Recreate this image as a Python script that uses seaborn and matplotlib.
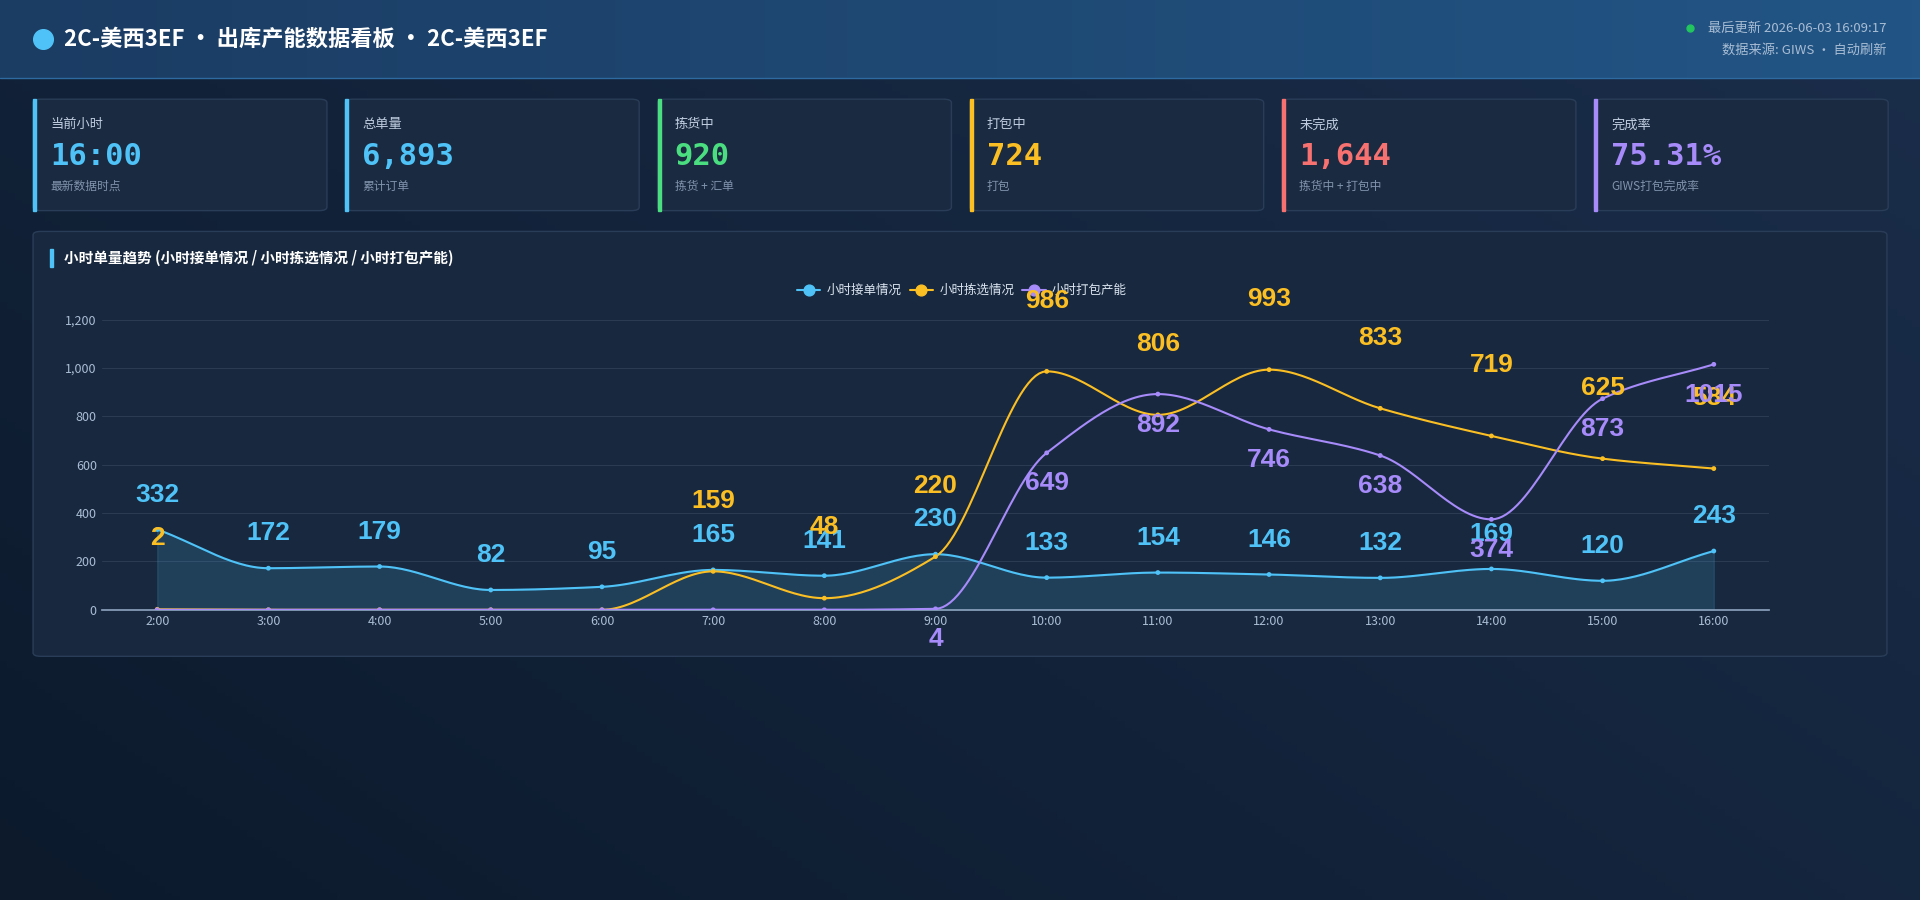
import numpy as np
import pandas as pd
import seaborn as sns
import matplotlib.pyplot as plt
from matplotlib.patches import Rectangle, FancyBboxPatch
from matplotlib.ticker import FuncFormatter

hours = ["2:00", "3:00", "4:00", "5:00", "6:00", "7:00", "8:00", "9:00",
         "10:00", "11:00", "12:00", "13:00", "14:00", "15:00", "16:00"]
orders = [332, 172, 179, 82, 95, 165, 141, 230, 133, 154, 146, 132, 169, 120, 243]
picking = [2, 0, 0, 0, 0, 159, 48, 220, 986, 806, 993, 833, 719, 625, 584]
packing = [0, 0, 0, 0, 0, 0, 0, 4, 649, 892, 746, 638, 374, 873, 1015]
series_names = ["小时接单情况", "小时拣选情况", "小时打包产能"]
series_colors = ["#4fc3f7", "#fbbf24", "#a78bfa"]

card_titles = ["当前小时", "总单量", "拣货中", "打包中", "未完成", "完成率"]
card_values = ["16:00", "6,893", "920", "724", "1,644", "75.31%"]
card_notes = ["最新数据时点", "累计订单", "拣货 + 汇单", "打包", "拣货中 + 打包中", "GIWS打包完成率"]
card_colors = ["#4fc3f7", "#4fc3f7", "#4ade80", "#fbbf24", "#f87171", "#a78bfa"]

sns.set_theme(style="dark")
plt.rcParams['font.family'] = ['Noto Sans CJK SC', 'DejaVu Sans']

W, H = 1568.0, 735.0  # reference layout units
fig = plt.figure(figsize=(19.2, 9), dpi=100)


def fx(x): return x / W
def fy(y): return 1 - y / H


cmap = plt.matplotlib.colors.LinearSegmentedColormap
bg = fig.add_axes([0, 0, 1, 1])
bg.set_axis_off()
grad = np.linspace(0, 1, 256)[None, :] * 0.6 + np.linspace(1, 0, 256)[:, None] * 0.4
bg.imshow(grad, aspect='auto', cmap=cmap.from_list("bg", ["#0c1a2c", "#1a2d4a"]),
          extent=[0, 1, 0, 1])
bg.set_xlim(0, 1); bg.set_ylim(0, 1)

# header
hg = np.linspace(0, 1, 256)[None, :]
bg.imshow(hg, aspect='auto', cmap=cmap.from_list("hd", ["#1b3c63", "#225585"]),
          extent=[0, 1, fy(64), 1], zorder=1)
bg.plot([0, 1], [fy(64), fy(64)], color="#2e6aa0", lw=1, zorder=2)
bg.scatter([fx(35)], [fy(32)], s=200, color="#4fc3f7", zorder=3)
bg.text(fx(52), fy(32), "2C-美西3EF · 出库产能数据看板 · 2C-美西3EF", color="white", fontsize=16,
        fontweight='bold', va='center', zorder=3)
bg.scatter([fx(1380)], [fy(23)], s=25, color="#22c55e", zorder=3)
bg.text(fx(1541), fy(23), "最后更新 2026-06-03 16:09:17", color="#a9bdd4", fontsize=9.5,
        ha='right', va='center', zorder=3)
bg.text(fx(1541), fy(41), "数据来源: GIWS · 自动刷新", color="#a9bdd4", fontsize=9.5,
        ha='right', va='center', zorder=3)

# cards
for i in range(6):
    x0 = 27 + i * 255
    bg.add_patch(FancyBboxPatch((fx(x0), fy(172)), fx(240), fy(81) - fy(172),
                                boxstyle="round,pad=0,rounding_size=0.004", fc="#1a2a40",
                                ec="#2a3d58", lw=1, zorder=2))
    bg.add_patch(Rectangle((fx(x0), fy(172)), fx(2.5), fy(81) - fy(172), color=card_colors[i], zorder=3))
    bg.text(fx(x0 + 14), fy(102), card_titles[i], color="#c0cde0", fontsize=9.5, va='center', zorder=3)
    bg.text(fx(x0 + 14), fy(128), card_values[i], color=card_colors[i], fontsize=22,
            fontweight='bold', va='center', family=['DejaVu Sans Mono', 'Noto Sans CJK SC'], zorder=3)
    bg.text(fx(x0 + 14), fy(152), card_notes[i], color="#8194ad", fontsize=8.5, va='center', zorder=3)

# chart panel
bg.add_patch(FancyBboxPatch((fx(27), fy(536)), fx(1514), fy(189) - fy(536),
                            boxstyle="round,pad=0,rounding_size=0.004", fc="#18283e",
                            ec="#2a3d58", lw=1, zorder=2))
bg.add_patch(Rectangle((fx(41), fy(218)), fx(2.5), fy(203) - fy(218), color="#4fc3f7", zorder=3))
bg.text(fx(52), fy(211), "小时单量趋势 (小时接单情况 / 小时拣选情况 / 小时打包产能)", color="white",
        fontsize=10.5, fontweight='bold', va='center', zorder=3)

# legend
lx = [651, 743, 835]
for j in range(3):
    bg.plot([fx(lx[j]), fx(lx[j] + 19)], [fy(237)] * 2, color=series_colors[j], lw=1.5, zorder=3)
    bg.scatter([fx(lx[j] + 9.5)], [fy(237)], s=60, color=series_colors[j], zorder=4)
    bg.text(fx(lx[j] + 24), fy(237), series_names[j], color="#dbe4f0", fontsize=9, va='center', zorder=3)

ax = fig.add_axes([fx(83), fy(498), fx(1445 - 83), fy(261) - fy(498)])
ax.set_facecolor("none")
x = np.arange(len(hours))


def smooth(xs, ys, n=30):
    # monotone cubic (Fritsch-Carlson) for drawing only
    xs = np.asarray(xs, float); ys = np.asarray(ys, float)
    d = np.diff(ys)
    m = np.zeros_like(ys)
    m[0], m[-1] = d[0], d[-1]
    for k in range(1, len(ys) - 1):
        if d[k - 1] * d[k] > 0:
            m[k] = 2 / (1 / d[k - 1] + 1 / d[k])
    ox, oy = [], []
    for k in range(len(xs) - 1):
        t = np.linspace(0, 1, n, endpoint=False)
        h00 = 2 * t**3 - 3 * t**2 + 1; h10 = t**3 - 2 * t**2 + t
        h01 = -2 * t**3 + 3 * t**2; h11 = t**3 - t**2
        oy.append(h00 * ys[k] + h10 * m[k] + h01 * ys[k + 1] + h11 * m[k + 1])
        ox.append(xs[k] + t)
    ox.append([xs[-1]]); oy.append([ys[-1]])
    return np.concatenate(ox), np.concatenate(oy)


df = pd.DataFrame({"x": np.tile(x, 3), "v": orders + picking + packing,
                   "s": np.repeat(series_names, len(x))})
for j, vals in enumerate([orders, picking, packing]):
    sx, sy = smooth(x, vals)
    ax.plot(sx, sy, color=series_colors[j], lw=1.5, zorder=3)
    if j == 0:
        ax.fill_between(sx, sy, color=series_colors[j], alpha=0.15, zorder=2)
sns.scatterplot(data=df, x="x", y="v", hue="s", palette=series_colors, s=12,
                legend=False, ax=ax, zorder=4, edgecolor="none")
offsets = [25, 51, -22]
for j, vals in enumerate([orders, picking, packing]):
    for xi, v in zip(x, vals):
        if v == 0:
            continue
        ax.annotate(str(v), (xi, v), xytext=(0, offsets[j]), textcoords='offset points', ha='center',
                    va='center', color=series_colors[j], fontsize=19, fontweight='bold', zorder=5,
                    annotation_clip=False, family=['Liberation Sans', 'DejaVu Sans'])

ax.set_xlim(-0.5, len(hours) - 0.5)
ax.set_ylim(0, 1200)
ax.set_yticks(range(0, 1201, 200))
ax.yaxis.set_major_formatter(FuncFormatter(lambda v, p: f"{int(v):,}"))
ax.set_xticks(x)
ax.set_xticklabels(hours)
ax.set_xticks(np.arange(-0.5, len(hours), 1), minor=True)
ax.tick_params(axis='x', which='minor', length=4, color="#8aa0bb")
ax.tick_params(axis='x', which='major', length=0, colors="#a9bdd4", labelsize=9)
ax.tick_params(axis='y', length=0, colors="#a9bdd4", labelsize=9)
ax.grid(axis='y', color="#2a3b52", lw=0.8)
ax.grid(axis='x', visible=False)
for s in ["top", "right", "left"]:
    ax.spines[s].set_visible(False)
ax.spines["bottom"].set_color("#8aa0bb")
ax.set_xlabel(""); ax.set_ylabel("")

fig.savefig("out.png", dpi=100)
